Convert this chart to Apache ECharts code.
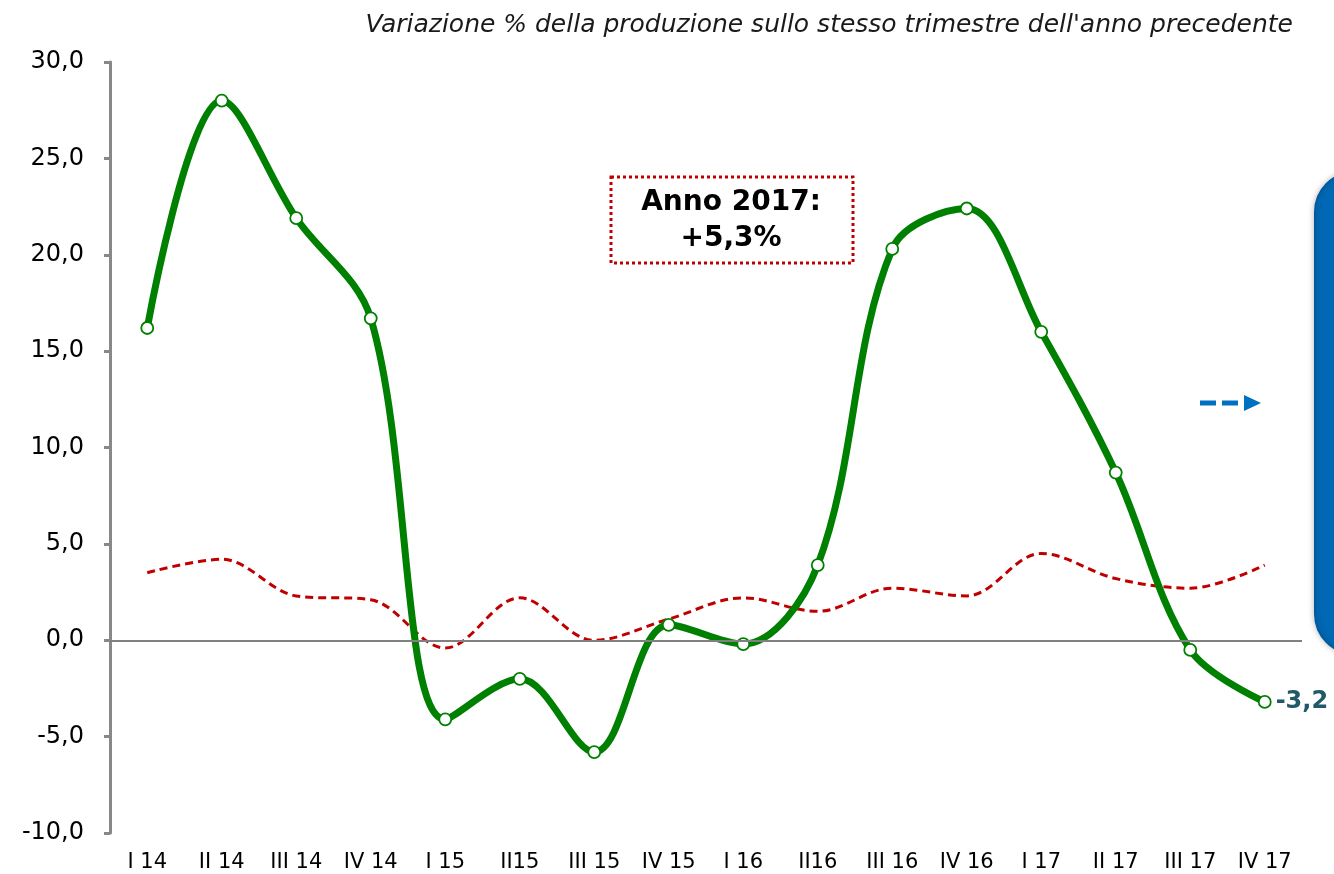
<!DOCTYPE html>
<html>
<head>
<meta charset="utf-8">
<script src="https://cdn.jsdelivr.net/npm/echarts@6/dist/echarts.min.js"></script>
<style>
  html, body { margin: 0; padding: 0; background: #fff; }
  #chart { width: 1334px; height: 874px; }
</style>
</head>
<body>
<div id="chart"></div>
<script>
const quarters = ['I 14', 'II 14', 'III 14', 'IV 14', 'I 15', 'II15', 'III 15', 'IV 15',
  'I 16', 'II16', 'III 16', 'IV 16', 'I 17', 'II 17', 'III 17', 'IV 17']
// variazione % produzione (linea verde)
const production = [16.2, 28.0, 21.9, 16.7, -4.1, -2.0, -5.8, 0.8, -0.2, 3.9, 20.3, 22.4, 16.0, 8.7, -0.5, -3.2]
// serie di confronto (tratteggio rosso)
const reference = [3.5, 4.2, 2.3, 2.1, -0.4, 2.2, 0.0, 1.1, 2.2, 1.5, 2.7, 2.3, 4.5, 3.2, 2.7, 3.9]
const yMin = -10
const yMax = 30
const yStep = 5
const titleText = "Variazione % della produzione sullo stesso trimestre dell'anno precedente"
const noteLines = ['Anno 2017:', '+5,3%']

const fmtComma = v => v.toFixed(1).replace('.', ',')

const chart = echarts.init(document.getElementById('chart'))

chart.setOption({
  animation: false,
  grid: { left: 110, right: 32, top: 62, bottom: 41 },
  xAxis: {
    type: 'category',
    data: quarters,
    boundaryGap: true,
    axisLine: { show: false },
    axisTick: { show: false },
    axisLabel: { color: '#000', fontSize: 21, fontFamily: 'DejaVu Sans', margin: 19 },
  },
  yAxis: {
    type: 'value',
    min: yMin,
    max: yMax,
    interval: yStep,
    axisLine: { show: true, lineStyle: { color: '#888', width: 3 } },
    axisTick: { show: true, length: 6, lineStyle: { color: '#888', width: 3 } },
    splitLine: { show: false },
    axisLabel: {
      color: '#000',
      fontSize: 24,
      fontFamily: 'DejaVu Sans',
      margin: 26,
      formatter: v => fmtComma(v),
    },
  },
  series: [
    {
      name: 'riferimento',
      type: 'line',
      data: reference,
      smooth: 0.35,
      symbol: 'none',
      lineStyle: { color: '#c00000', width: 3, type: [8, 5] },
      z: 2,
      markLine: {
        silent: true,
        symbol: 'none',
        label: { show: false },
        lineStyle: { color: '#808080', width: 2, type: 'solid' },
        data: [{ yAxis: 0 }],
      },
    },
    {
      name: 'produzione',
      type: 'line',
      data: production,
      smooth: 0.35,
      symbol: 'circle',
      symbolSize: 12,
      itemStyle: { color: '#fff', borderColor: '#008000', borderWidth: 1.8 },
      lineStyle: { color: '#008000', width: 7 },
      z: 3,
      label: {
        show: true,
        position: 'right',
        distance: 4,
        color: '#215968',
        fontSize: 24,
        fontWeight: 'bold',
        fontFamily: 'DejaVu Sans',
        formatter: p => (p.dataIndex === production.length - 1 ? fmtComma(p.value) : ''),
      },
    },
  ],
  graphic: [
    {
      type: 'text',
      right: 41,
      top: 13,
      style: {
        text: titleText,
        font: 'italic 25px "DejaVu Sans"',
        fill: '#1a1a1a',
      },
    },
    {
      type: 'rect',
      shape: { x: 611, y: 177, width: 242, height: 86 },
      style: { fill: '#fff', stroke: '#c00000', lineWidth: 3, lineDash: [3, 3] },
      z: 10,
    },
    {
      type: 'text',
      x: 731,
      y: 221,
      style: {
        text: noteLines.join('\n'),
        font: 'bold 28px "DejaVu Sans"',
        fill: '#000',
        align: 'center',
        verticalAlign: 'middle',
        lineHeight: 36,
      },
      z: 11,
    },
    {
      type: 'rect',
      shape: { x: 1315, y: 172, width: 80, height: 482, r: 56 },
      style: {
        fill: '#0068b5',
        stroke: '#005a9e',
        lineWidth: 2,
        shadowBlur: 6,
        shadowColor: 'rgba(0,0,0,0.25)',
      },
      z: 10,
    },
    {
      type: 'line',
      shape: { x1: 1200, y1: 403, x2: 1242, y2: 403 },
      style: { stroke: '#0070c0', lineWidth: 5, lineDash: [16, 6] },
      z: 10,
    },
    {
      type: 'polygon',
      shape: { points: [[1244, 395], [1261, 403], [1244, 411]] },
      style: { fill: '#0070c0' },
      z: 10,
    },
  ],
})
</script>
</body>
</html>
